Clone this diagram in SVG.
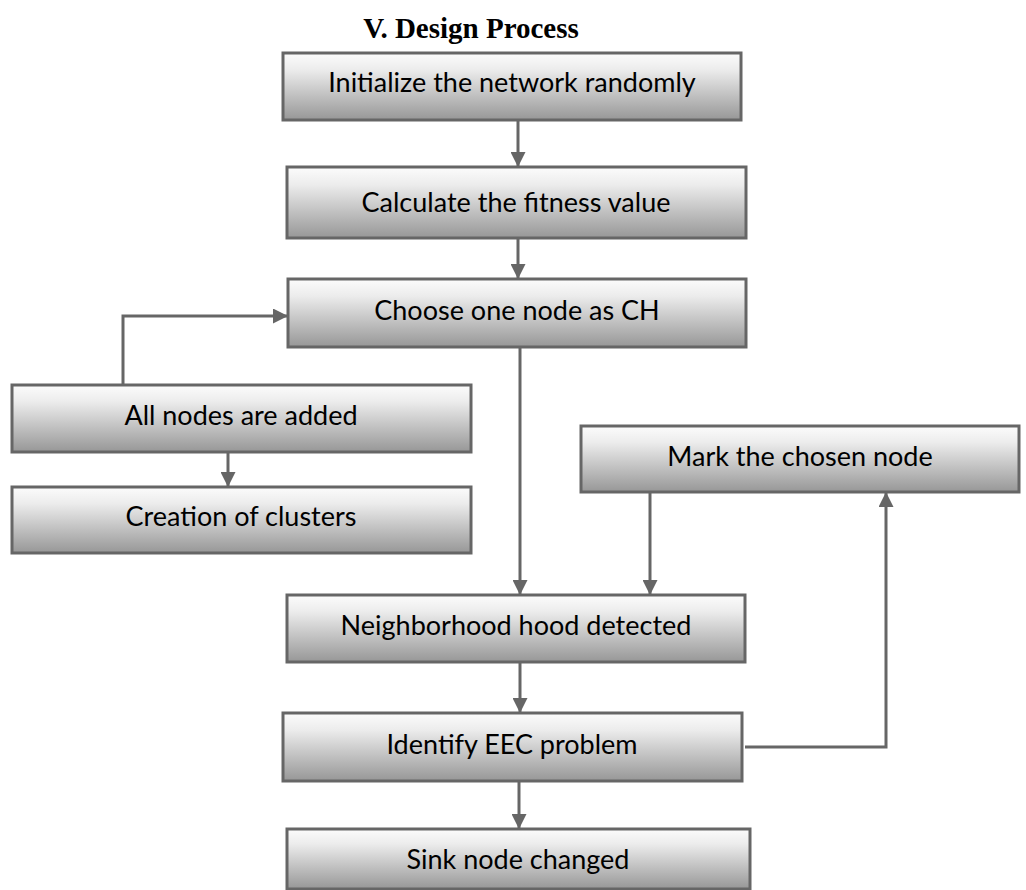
<svg xmlns="http://www.w3.org/2000/svg" width="1026" height="890" viewBox="0 0 1026 890">
<defs>
<linearGradient id="g" x1="0" y1="0" x2="0" y2="1">
<stop offset="0" stop-color="#fcfcfc"/>
<stop offset="0.25" stop-color="#ececec"/>
<stop offset="1" stop-color="#979797"/>
</linearGradient>
<marker id="ah" markerWidth="15" markerHeight="15" refX="14" refY="7.5" orient="auto" markerUnits="userSpaceOnUse">
<path d="M0,0 L15,7.5 L0,15 Z" fill="#666"/>
</marker>
</defs>
<style>
.box{fill:url(#g);stroke:#666;stroke-width:3}
.t{font-family:Lato,"Open Sans",sans-serif;font-size:27px;fill:#000;text-anchor:middle}
.c{fill:none;stroke:#666;stroke-width:3}
</style>
<rect width="1026" height="890" fill="#fff"/>
<text x="471" y="38" font-family="'Liberation Serif',serif" font-weight="bold" font-size="29" text-anchor="middle">V. Design Process</text>
<g id="connectors">
<path class="c" d="M518,120 V166" marker-end="url(#ah)"/>
<path class="c" d="M518,238 V278" marker-end="url(#ah)"/>
<path class="c" d="M520,347 V594" marker-end="url(#ah)"/>
<path class="c" d="M123,385 V316 H287" marker-end="url(#ah)"/>
<path class="c" d="M228,452 V486" marker-end="url(#ah)"/>
<path class="c" d="M650,492 V594" marker-end="url(#ah)"/>
<path class="c" d="M520,662 V712" marker-end="url(#ah)"/>
<path class="c" d="M519,781 V828" marker-end="url(#ah)"/>
<path class="c" d="M745,747 H886 V493" marker-end="url(#ah)"/>
</g>
<g id="n1"><rect class="box" x="283" y="53" width="458" height="67"/><text class="t" x="512" y="92">Initialize the network randomly</text></g>
<g id="n2"><rect class="box" x="287" y="167" width="459" height="71"/><text class="t" x="516" y="212">Calculate the fitness value</text></g>
<g id="n3"><rect class="box" x="288" y="279" width="458" height="68"/><text class="t" x="517" y="320">Choose one node as CH</text></g>
<g id="n4"><rect class="box" x="12" y="385" width="459" height="67"/><text class="t" x="241" y="425">All nodes are added</text></g>
<g id="n5"><rect class="box" x="12" y="487" width="459" height="66"/><text class="t" x="241" y="526">Creation of clusters</text></g>
<g id="n6"><rect class="box" x="581" y="426" width="438" height="66"/><text class="t" x="800" y="466">Mark the chosen node</text></g>
<g id="n7"><rect class="box" x="287" y="595" width="458" height="67"/><text class="t" x="516" y="635">Neighborhood hood detected</text></g>
<g id="n8"><rect class="box" x="283" y="713" width="459" height="68"/><text class="t" x="512" y="754">Identify EEC problem</text></g>
<g id="n9"><rect class="box" x="287" y="829" width="463" height="60"/><text class="t" x="518" y="869">Sink node changed</text></g>
</svg>
